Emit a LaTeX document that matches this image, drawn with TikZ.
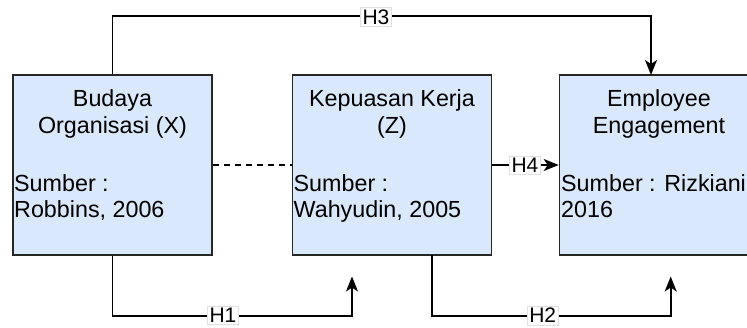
\documentclass[tikz,border=0pt]{standalone}
\usepackage{fontspec}
\setmainfont{Liberation Sans}
\usetikzlibrary{arrows.meta,calc}
\begin{document}
\begin{tikzpicture}[x=1pt,y=-1pt,
  box/.style={draw=black!85,line width=1.6pt,fill=boxfill,minimum width=199pt,minimum height=180pt,inner sep=0pt},
  txt/.style={inner sep=0pt,font=\fontsize{23.3}{27}\selectfont},
  conn/.style={line width=1.7pt,black},
  arr/.style={conn,-{Stealth[length=15pt,width=12pt,inset=4pt]}},
  hlab/.style={draw=black!12,fill=white,line width=0.6pt,inner sep=2pt,font=\fontsize{21}{24}\selectfont}]
\definecolor{boxfill}{HTML}{DAE8FC}
\useasboundingbox (0,0) rectangle (747,327);
\clip (0,0) rectangle (747,327);
% boxes
\node[box] (b1) at (112.5,165) {};
\node[box] (b2) at (392,165) {};
\node[box] (b3) at (659,165) {};
% texts box 1
\node[txt,anchor=base] (t1a) at (112.5,106.7) {Budaya};
\node[txt,anchor=base] (t1b) at (112.5,133.3) {Organisasi (X)};
\node[txt,anchor=base west] (s1a) at (14,191) {Sumber :};
\node[txt,anchor=base west] (s1b) at (14,217.7) {Robbins, 2006};
% texts box 2
\node[txt,anchor=base] (t2a) at (392,106.7) {Kepuasan Kerja};
\node[txt,anchor=base] (t2b) at (392,133.3) {(Z)};
\node[txt,anchor=base west] (s2a) at (293.5,191) {Sumber :};
\node[txt,anchor=base west] (s2b) at (293.5,217.7) {Wahyudin, 2005};
% texts box 3
\node[txt,anchor=base] (t3a) at (659,106.7) {Employee};
\node[txt,anchor=base] (t3b) at (659,133.3) {Engagement};
\node[txt,anchor=base west] (s3a) at (561,191) {Sumber : Rizkiani};
\node[txt,anchor=base west] (s3b) at (561,217.7) {2016};
% connectors
\coordinate (h3end) at (651,75);
\draw[arr] (b1.north) -- (112.5,16) -| (h3end);
\node[hlab] (l3) at (376,17) {H3};
\draw[conn,dash pattern=on 6pt off 5pt] (b1.east) -- (b2.west);
\draw[arr] (b2.east) -- (b3.west);
\node[hlab] (l4) at (525,165.5) {H4};
\coordinate (h1end) at (352,276.5);
\draw[arr] (b1.south) -- (112.5,315.7) -| (h1end);
\node[hlab] (l1) at (223,315.5) {H1};
\coordinate (h2start) at (431.7,255);
\coordinate (h2end) at (670.7,276.5);
\draw[arr] (h2start) -- (431.7,315.7) -| (h2end);
\node[hlab] (l2) at (542.7,315.5) {H2};
\end{tikzpicture}
\end{document}
